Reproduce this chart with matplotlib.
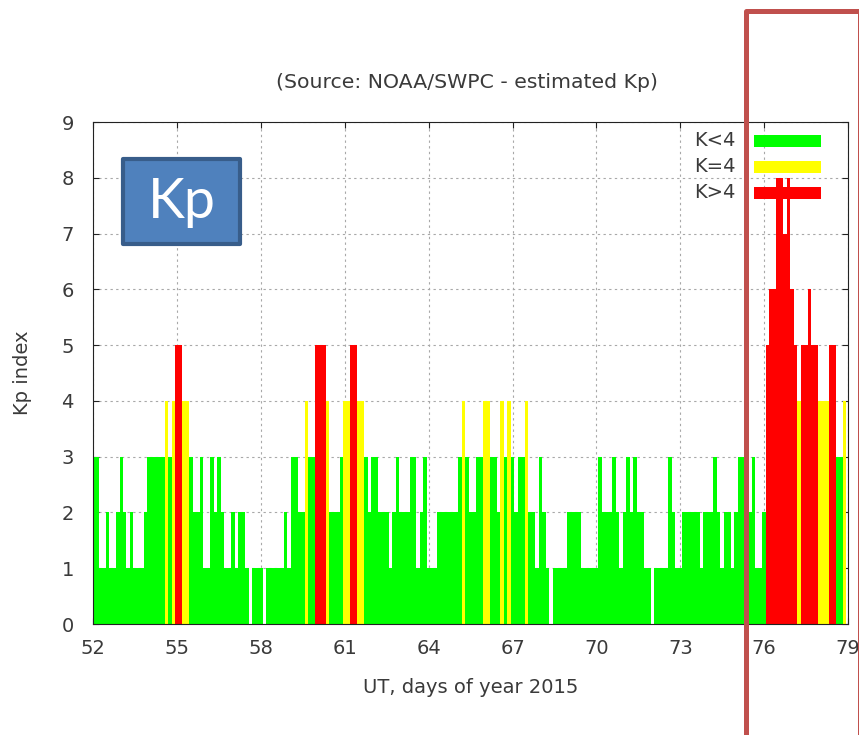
import numpy as np
import matplotlib
matplotlib.use("Agg")
import matplotlib.pyplot as plt
from matplotlib.patches import Rectangle

# 3-hourly estimated Kp, bins centred on 52.000, 52.125, ... 79.000 (day of year 2015)
day_start = 52
day_end = 79
bin_days = 3 / 24
kp_values = [
    3, 3, 1, 1, 2, 1, 1, 2, 3, 2, 1, 2, 1, 1, 1, 2,      # day 52-53
    3, 3, 3, 3, 3, 4, 3, 4, 5, 5, 4, 4, 3, 2, 2, 3,      # day 54-55
    1, 1, 3, 2, 3, 2, 1, 1, 2, 1, 2, 2, 1, 0, 1, 1,      # day 56-57
    1, 0, 1, 1, 1, 1, 1, 2, 1, 3, 3, 2, 2, 4, 3, 3,      # day 58-59
    5, 5, 5, 4, 2, 2, 2, 3, 4, 4, 5, 5, 4, 4, 3, 2,      # day 60-61
    3, 3, 2, 2, 2, 1, 2, 3, 2, 2, 2, 3, 3, 1, 2, 3,      # day 62-63
    1, 1, 1, 2, 2, 2, 2, 2, 2, 3, 4, 3, 2, 2, 3, 3,      # day 64-65
    4, 4, 3, 3, 2, 4, 3, 4, 3, 2, 3, 3, 4, 2, 2, 1,      # day 66-67
    3, 2, 1, 0, 1, 1, 1, 1, 2, 2, 2, 2, 1, 1, 1, 1,      # day 68-69
    1, 3, 2, 2, 2, 3, 2, 1, 2, 3, 2, 3, 2, 2, 1, 1,      # day 70-71
    0, 1, 1, 1, 1, 3, 2, 1, 1, 2, 2, 2, 2, 2, 1, 2,      # day 72-73
    2, 2, 3, 2, 1, 2, 2, 1, 2, 3, 3, 3, 2, 3, 1, 1,      # day 74-75
    2, 5, 6, 6, 8, 8, 7, 8, 6, 5, 4, 5, 5, 6, 5, 5,      # day 76-77
    4, 4, 4, 5, 5, 3, 3, 4, 0,                           # day 78-79
]

x_ticks = list(range(52, 80, 3))
y_ticks = list(range(0, 10))
key_labels = ["K<4", "K=4", "K>4"]
key_colors = ["#00ff00", "#ffff00", "#ff0000"]
title_text = "(Source: NOAA/SWPC - estimated Kp)"
x_label = "UT, days of year 2015"
y_label = "Kp index"
badge_text = "Kp"

W, H = 859, 735
TXT = "#3a3a3a"
FS = 14
plt.rcParams["font.family"] = ["DejaVu Sans"]


def fx(px):
    return px / W


def fy(py):
    return 1 - py / H


def kp_color(v):
    if v < 4:
        return key_colors[0]
    if v == 4:
        return key_colors[1]
    return key_colors[2]


fig = plt.figure(figsize=(W / 100, H / 100), dpi=100)
ax = fig.add_axes([fx(93.3), fy(624), fx(848) - fx(93.3), fy(122) - fy(624)])

times = day_start + np.arange(len(kp_values)) * bin_days
ax.bar(times, kp_values, width=bin_days, align="center",
       color=[kp_color(v) for v in kp_values], linewidth=0,
       antialiased=False, zorder=2)

ax.set_xlim(day_start, day_end)
ax.set_ylim(0, 9)
ax.set_xticks(x_ticks)
ax.set_yticks(y_ticks)
ax.set_axisbelow(True)
ax.grid(True, color="#a8a8a8", linestyle=(0, (2.1, 3.0)), linewidth=0.8, zorder=0)

for s in ax.spines.values():
    s.set_linewidth(0.8)
    s.set_color("#222222")
    s.set_zorder(5)

ax.tick_params(axis="both", direction="in", length=4.5, width=0.8,
               top=True, right=True, color="#222222",
               labelsize=FS, labelcolor=TXT)
ax.tick_params(axis="x", pad=11)
ax.tick_params(axis="y", pad=14)

ax.set_xlabel(x_label, fontsize=FS, color=TXT, labelpad=14)
ax.set_ylabel(y_label, fontsize=FS, color=TXT, labelpad=21)

fig.text(fx(467), fy(82), title_text, ha="center", va="center",
         fontsize=14.7, color=TXT)

# key: right-justified labels followed by colour samples
for i, (lab, col) in enumerate(zip(key_labels, key_colors)):
    yc = 141 + 26 * i
    fig.add_artist(Rectangle((fx(754), fy(yc + 6)), fx(821) - fx(754),
                             fy(yc - 6) - fy(yc + 6), transform=fig.transFigure,
                             facecolor=col, edgecolor="none", zorder=6))
    fig.text(fx(736), fy(yc - 1), lab, ha="right", va="center",
             fontsize=FS, color=TXT, zorder=6)

# "Kp" badge
fig.add_artist(Rectangle((fx(123), fy(244)), fx(240) - fx(123), fy(159) - fy(244),
                         transform=fig.transFigure, facecolor="#4f81bd",
                         edgecolor="#385d8a", linewidth=3, joinstyle="round",
                         zorder=7))
fig.text(fx(182), fy(203), badge_text, ha="center", va="center",
         fontsize=40, color="white", family=["Lato", "DejaVu Sans"], zorder=8)

# highlight frame around the storm interval
fig.add_artist(Rectangle((fx(746), fy(780)), fx(860) - fx(746), fy(10.7) - fy(780),
                         transform=fig.transFigure, facecolor="none",
                         edgecolor="#c0504d", linewidth=3.6, joinstyle="round",
                         zorder=9))

fig.savefig("out.png", dpi=100)
